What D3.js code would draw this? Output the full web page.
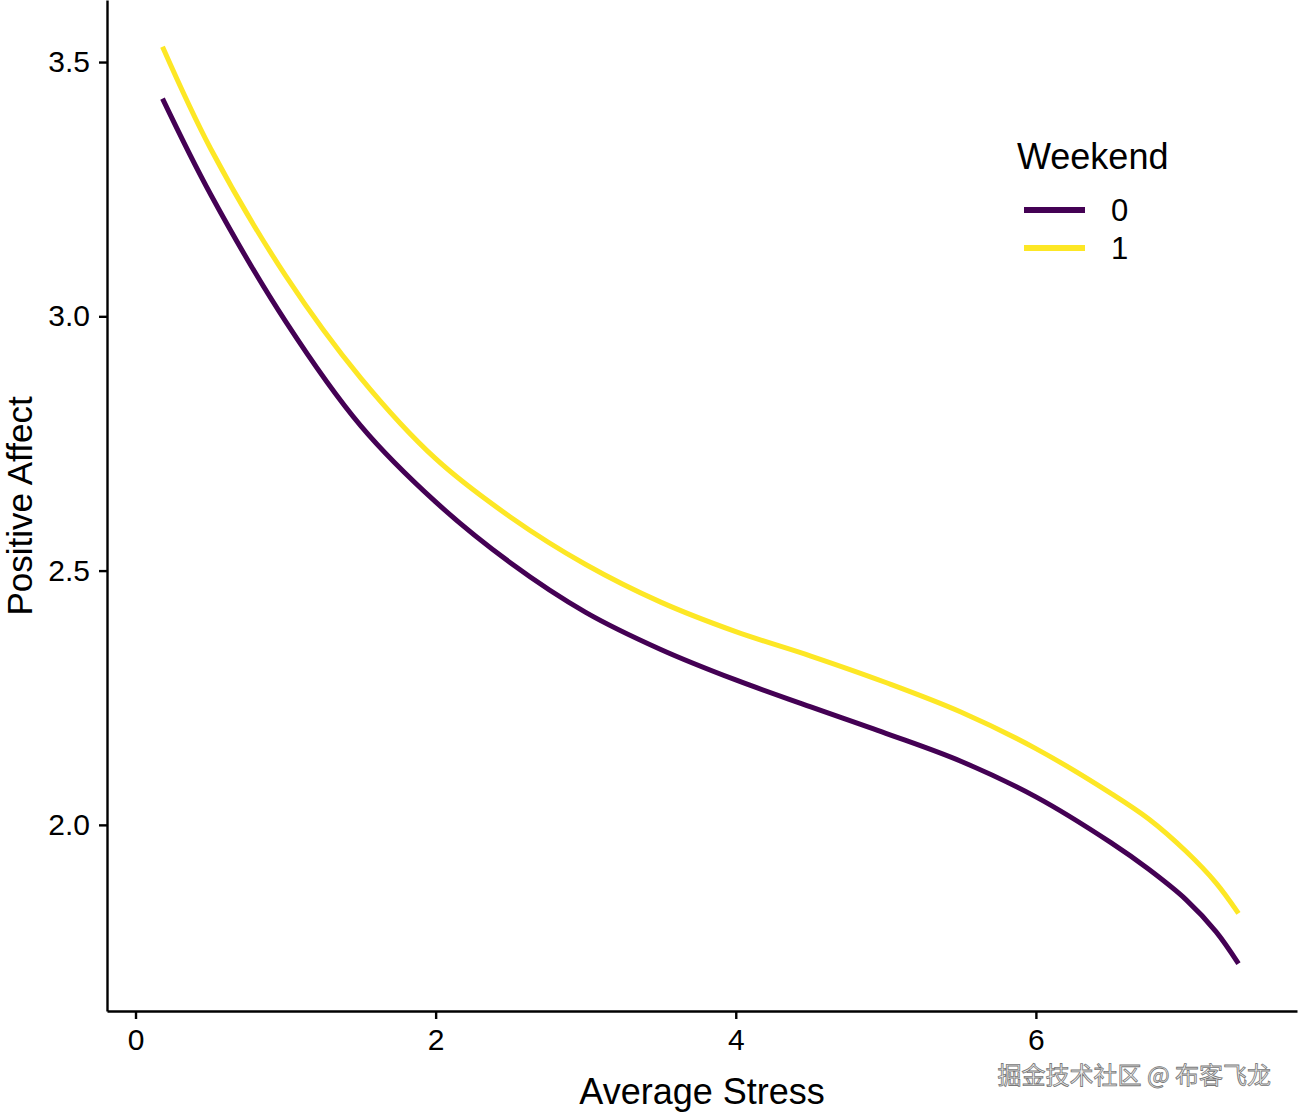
<!DOCTYPE html>
<html>
<head>
<meta charset="utf-8">
<script src="https://cdn.jsdelivr.net/npm/d3@7"></script>
<style>
    body { margin: 0; background: #fff; }
    svg { display: block; font-family: "Liberation Sans", Arial, sans-serif; }
    .axis path, .axis line { stroke: #000; stroke-width: 2.4; }
    .axis text { fill: #000; font-size: 30px; }
</style>
</head>
<body>
<div class="chart"></div>
<script>
// readings
var stress = [0.18, 0.5, 1, 1.5, 2, 2.5, 3, 3.5, 4, 4.5, 5, 5.5, 6, 6.5, 6.75, 7, 7.2, 7.35];
var weekday = [3.428, 3.24, 2.99, 2.785, 2.635, 2.515, 2.418, 2.345, 2.285, 2.232, 2.18, 2.125, 2.055, 1.965, 1.913, 1.853, 1.79, 1.727];
var weekend = [3.53, 3.33, 3.08, 2.879, 2.72, 2.605, 2.512, 2.438, 2.38, 2.332, 2.28, 2.222, 2.15, 2.062, 2.012, 1.948, 1.886, 1.826];
var groups = ['0', '1'];
var colours = ['#440154', '#FDE725'];
var xTicks = [0, 2, 4, 6];
var yTicks = [2.0, 2.5, 3.0, 3.5];

var width = 1300;
var height = 1113;

var svg = d3.select('.chart')
    .append('svg')
    .attr('width', width)
    .attr('height', height);

var x = d3.scaleLinear()
    .domain([-0.19, 7.74])
    .range([107, 1297]);

var y = d3.scaleLinear()
    .domain([1.634, 3.622])
    .range([1011, 0]);

var colour = d3.scaleOrdinal()
    .domain(groups)
    .range(colours);

// axes
svg.append('g')
    .attr('class', 'axis')
    .attr('transform', 'translate(0, 1011)')
    .call(d3.axisBottom(x).tickValues(xTicks).tickSize(8).tickPadding(8).tickSizeOuter(0))
    .selectAll('text')
    .attr('dy', '0.78em');

svg.append('g')
    .attr('class', 'axis')
    .attr('transform', 'translate(107, 0)')
    .call(d3.axisLeft(y).tickValues(yTicks).tickFormat(d3.format('.1f')).tickSize(8).tickPadding(9).tickSizeOuter(0));

// axis titles
svg.append('text')
    .attr('x', 702)
    .attr('y', 1104)
    .attr('text-anchor', 'middle')
    .attr('font-size', 36)
    .attr('fill', '#000')
    .text('Average Stress');

svg.append('text')
    .attr('transform', 'translate(32, 506) rotate(-90)')
    .attr('text-anchor', 'middle')
    .attr('font-size', 35)
    .attr('fill', '#000')
    .text('Positive Affect');

// curves
var series = [weekday, weekend];

var line = d3.line()
    .x(function(d) { return x(d[0]); })
    .y(function(d) { return y(d[1]); })
    .curve(d3.curveCatmullRom.alpha(0.5));

svg.selectAll('.curve')
    .data(series)
    .enter()
    .append('path')
    .attr('class', 'curve')
    .attr('fill', 'none')
    .attr('stroke', function(d, i) { return colour(groups[i]); })
    .attr('stroke-width', 5)
    .attr('d', function(d) { return line(d3.zip(stress, d)); });

// legend
var legend = svg.append('g')
    .attr('transform', 'translate(1017, 0)');

legend.append('text')
    .attr('x', 0)
    .attr('y', 169)
    .attr('font-size', 36)
    .attr('fill', '#000')
    .text('Weekend');

var keys = legend.selectAll('.key')
    .data(groups)
    .enter()
    .append('g')
    .attr('class', 'key')
    .attr('transform', function(d, i) { return 'translate(0,' + (210 + i * 38) + ')'; });

keys.append('line')
    .attr('x1', 7)
    .attr('x2', 68)
    .attr('stroke', function(d) { return colour(d); })
    .attr('stroke-width', 6);

keys.append('text')
    .attr('x', 94)
    .attr('y', 11)
    .attr('font-size', 31)
    .attr('fill', '#000')
    .text(function(d) { return d; });

// watermark
svg.append('text')
    .attr('x', 1271)
    .attr('y', 1084)
    .attr('text-anchor', 'end')
    .attr('font-family', '"Noto Sans CJK SC", sans-serif')
    .attr('font-size', 24)
    .attr('fill', '#f2f2f2')
    .attr('stroke', '#777')
    .attr('stroke-width', 0.8)
    .text('掘金技术社区 @ 布客飞龙');
</script>
</body>
</html>
